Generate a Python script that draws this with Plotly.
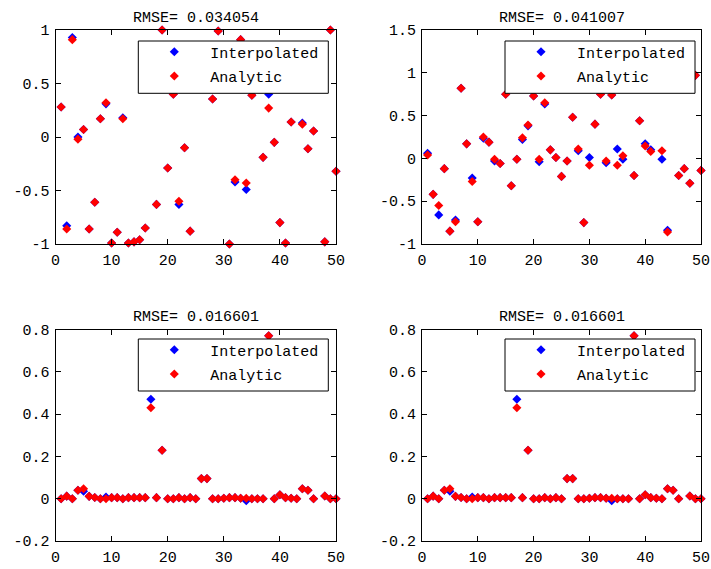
import plotly.graph_objects as go

x = list(range(1, 51))

tl_analytic = [0.28, -0.86, 0.91, -0.02, 0.07, -0.86, -0.61, 0.17, 0.32, -0.99,
               -0.89, 0.17, -0.99, -0.98, -0.96, -0.85, 0.62, -0.63, 1.0, -0.29,
               0.40, -0.60, -0.10, -0.88, 0.72, 0.55, 0.80, 0.355, 0.99, 0.60,
               -1.0, -0.40, 0.91, -0.43, 0.39, 0.75, -0.19, 0.27, -0.05, -0.80,
               -0.99, 0.14, 0.55, 0.12, -0.11, 0.056, 0.65, -0.98, 1.0, -0.32]
tl_interp = [0.28, -0.83, 0.93, 0.00, 0.07, -0.86, -0.61, 0.17, 0.31, -0.99,
             -0.89, 0.18, -0.99, -0.98, -0.96, -0.85, 0.62, -0.63, 1.0, -0.29,
             0.40, -0.63, -0.10, -0.88, 0.72, 0.55, 0.80, 0.355, 0.99, 0.60,
             -1.0, -0.42, 0.91, -0.49, 0.39, 0.75, -0.19, 0.40, -0.05, -0.80,
             -0.99, 0.14, 0.55, 0.13, -0.11, 0.056, 0.65, -0.98, 1.0, -0.32]

tr_analytic = [0.04, -0.42, -0.55, -0.12, -0.85, -0.74, 0.82, 0.17, -0.27, -0.74,
               0.25, 0.19, -0.01, -0.06, 0.75, -0.32, -0.01, 0.24, 0.39, 0.73,
               -0.01, 0.65, 0.10, 0.01, -0.21, -0.03, 0.48, 0.11, -0.75, -0.08,
               0.40, 0.75, -0.03, 0.74, -0.08, 0.03, 1.05, -0.20, 0.44, 0.145,
               0.08, 0.90, 0.09, -0.86, 1.10, -0.20, -0.12, -0.29, 0.97, -0.14]
tr_interp = [0.06, -0.42, -0.66, -0.12, -0.85, -0.72, 0.82, 0.17, -0.23, -0.74,
             0.235, 0.19, -0.03, -0.06, 0.75, -0.32, -0.01, 0.22, 0.38, 0.73,
             -0.04, 0.635, 0.10, 0.01, -0.21, -0.03, 0.48, 0.09, -0.75, 0.01,
             0.40, 0.75, -0.05, 0.74, 0.11, -0.01, 1.05, -0.20, 0.44, 0.17,
             0.10, 0.90, -0.01, -0.84, 1.10, -0.20, -0.12, -0.29, 0.97, -0.14]

bot_analytic = [0.0, 0.012, 0.0, 0.04, 0.047, 0.011, 0.006, 0.0, 0.0, 0.005,
                0.005, 0.0, 0.005, 0.005, 0.005, 0.005, 0.43, 0.005, 0.229, 0.0,
                0.0, 0.005, 0.0, 0.005, 0.0, 0.095, 0.095, 0.0, 0.0, 0.002,
                0.005, 0.005, 0.002, 0.002, 0.0, 0.0, 0.0, 0.77, 0.0, 0.019,
                0.005, 0.002, 0.0, 0.047, 0.04, 0.0, None, 0.013, 0.0, 0.0]
bot_interp = [0.0, 0.012, 0.0, 0.04, 0.035, 0.011, 0.006, 0.0, 0.008, 0.005,
              0.005, 0.0, 0.005, 0.005, 0.005, 0.005, 0.47, 0.005, 0.229, 0.0,
              0.0, 0.005, 0.0, 0.005, 0.0, 0.095, 0.095, 0.0, 0.0, 0.002,
              0.005, 0.005, 0.002, -0.01, 0.0, 0.0, 0.0, 0.77, 0.0, 0.019,
              0.005, 0.002, 0.0, 0.047, 0.04, 0.0, None, 0.013, 0.0, 0.0]

rmse_values = ["0.034054", "0.041007", "0.016601", "0.016601"]
x_ticks = [0, 10, 20, 30, 40, 50]
y_ticks_tl = [-1, -0.5, 0, 0.5, 1]
y_ticks_tr = [-1, -0.5, 0, 0.5, 1, 1.5]
y_ticks_bot = [-0.2, 0, 0.2, 0.4, 0.6, 0.8]

W, H = 711, 569
FONT = "Liberation Mono"
FS = 15

panels = [
    dict(interp=tl_interp, analytic=tl_analytic, yr=[-1, 1], yt=y_ticks_tl,
         px=(55.5, 336), py=(30, 244), box=(138.3, 41, 328.3, 93.3)),
    dict(interp=tr_interp, analytic=tr_analytic, yr=[-1, 1.5], yt=y_ticks_tr,
         px=(422, 701), py=(30, 244), box=(505, 41, 695, 93.3)),
    dict(interp=bot_interp, analytic=bot_analytic, yr=[-0.2, 0.8], yt=y_ticks_bot,
         px=(55.5, 336), py=(329.5, 541), box=(138.3, 339, 328.3, 391)),
    dict(interp=bot_interp, analytic=bot_analytic, yr=[-0.2, 0.8], yt=y_ticks_bot,
         px=(422, 701), py=(329.5, 541), box=(505, 339, 695, 391)),
]


def fmt(v):
    return "%g" % v


fig = go.Figure()
layout = dict(template="none", width=W, height=H,
              margin=dict(l=0, r=0, t=0, b=0, autoexpand=False),
              autosize=False, plot_bgcolor="white", paper_bgcolor="white",
              font=dict(family=FONT, size=FS, color="black"),
              annotations=[], shapes=[])

for i, p in enumerate(panels):
    n = "" if i == 0 else str(i + 1)
    xa, ya = "x" + n, "y" + n
    leg = "legend" + n
    for name, data, col in (("Interpolated", p["interp"], "#0000ff"),
                            ("Analytic", p["analytic"], "#ff0000")):
        fig.add_trace(go.Scatter(
            x=x, y=data, mode="markers", name=name, xaxis=xa, yaxis=ya,
            legend=leg, legendgroup=name + n, cliponaxis=False,
            marker=dict(symbol="diamond", size=7, color=col, line=dict(width=0))))
    axis_common = dict(showline=True, linecolor="black", linewidth=1,
                       mirror="ticks", ticks="inside", ticklen=5,
                       tickcolor="black", showgrid=False, zeroline=False,
                       automargin=False, ticklabeloverflow="allow",
                       tickfont=dict(family=FONT, size=FS, color="black"))
    layout["xaxis" + n] = dict(
        domain=[p["px"][0] / W, p["px"][1] / W], range=[0, 50],
        anchor=ya, tickmode="array", tickvals=x_ticks,
        ticktext=[fmt(v) for v in x_ticks], ticklabelstandoff=2, **axis_common)
    layout["yaxis" + n] = dict(
        domain=[1 - p["py"][1] / H, 1 - p["py"][0] / H], range=p["yr"],
        anchor=xa, tickmode="array", tickvals=p["yt"],
        ticktext=[fmt(v) for v in p["yt"]], ticklabelstandoff=2, **axis_common)
    bx0, by0, bx1, by1 = p["box"]
    # legend frame: white box that hides the marks beneath it, as in the original
    layout["shapes"].append(dict(
        type="rect", xref="paper", yref="paper", layer="above",
        x0=bx0 / W, x1=bx1 / W, y0=1 - by1 / H, y1=1 - by0 / H,
        fillcolor="white", line=dict(color="black", width=1)))
    layout[leg] = dict(
        x=bx0 / W, y=1 - (by0 - 5.5) / H, xanchor="left", yanchor="top",
        bgcolor="rgba(0,0,0,0)", borderwidth=0,
        itemwidth=62, font=dict(family=FONT, size=FS, color="black"),
        traceorder="grouped", tracegroupgap=1.7)
    layout["annotations"].append(dict(
        text="RMSE= " + rmse_values[i], xref="paper", yref="paper",
        x=(p["px"][0] + p["px"][1]) / 2 / W, y=1 - (p["py"][0] - 1.5) / H,
        xanchor="center", yanchor="bottom", showarrow=False,
        font=dict(family=FONT, size=FS, color="black")))

fig.update_layout(**layout)
fig.write_html("out.html", config={"displayModeBar": False, "staticPlot": True},
               post_script="document.body.style.margin='0';"
                           "document.documentElement.style.margin='0';")
